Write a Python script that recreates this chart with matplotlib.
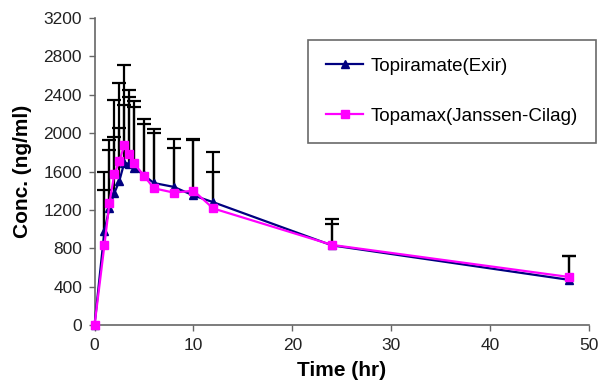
import matplotlib
matplotlib.use("Agg")
import matplotlib.pyplot as plt
import numpy as np

time_hr = [0, 1, 1.5, 2, 2.5, 3, 3.5, 4, 5, 6, 8, 10, 12, 24, 48]
exir_mean = [0, 980, 1220, 1375, 1500, 1690, 1680, 1640, 1560, 1480, 1440, 1350, 1280, 830, 470]
exir_sd = [0, 620, 705, 975, 1025, 1025, 770, 690, 585, 565, 495, 590, 520, 275, 250]
topamax_mean = [0, 835, 1270, 1575, 1705, 1875, 1780, 1685, 1555, 1425, 1380, 1400, 1215, 835, 500]
topamax_sd = [0, 570, 555, 385, 350, 415, 600, 590, 540, 575, 460, 530, 375, 215, 220]

x_ticks = [0, 10, 20, 30, 40, 50]
y_ticks = [0, 400, 800, 1200, 1600, 2000, 2400, 2800, 3200]

plt.rcParams['font.family'] = ['Liberation Sans', 'DejaVu Sans']

fig = plt.figure(figsize=(6.10, 3.84), dpi=100)
ax = fig.add_axes([0.155, 0.1536, 0.811, 0.7995])

t = np.array(time_hr)
for mean, sd in ((exir_mean, exir_sd), (topamax_mean, topamax_sd)):
    m = np.array(mean)
    s = np.array(sd)
    mask = s > 0
    _, caplines, _ = ax.errorbar(t[mask], m[mask], yerr=[np.zeros(mask.sum()), s[mask]],
                                 fmt='none', ecolor='black', elinewidth=1.6, capsize=5,
                                 capthick=1.6, zorder=2)
    # upper-only error bars: hide the lower caps
    caplines[0].set_visible(False)

ax.plot(time_hr, exir_mean, color='#000080', lw=1.6, marker='^', markersize=6,
        markerfacecolor='#000080', markeredgecolor='#000080',
        label='Topiramate(Exir)', zorder=3, clip_on=False)
ax.plot(time_hr, topamax_mean, color='#ff00ff', lw=1.6, marker='s', markersize=6,
        markerfacecolor='#ff00ff', markeredgecolor='#ff00ff',
        label='Topamax(Janssen-Cilag)', zorder=4, clip_on=False)

ax.set_xlim(0, 50)
ax.set_ylim(0, 3200)
ax.set_xticks(x_ticks)
ax.set_yticks(y_ticks)
ax.tick_params(axis='both', labelsize=12.5, colors='#222222', direction='out',
               length=4, width=1, pad=5)
ax.tick_params(axis='both', color='#666666')
for side in ('top', 'right'):
    ax.spines[side].set_visible(False)
for side in ('left', 'bottom'):
    ax.spines[side].set_color('#666666')
    ax.spines[side].set_linewidth(1.2)

ax.set_xlabel('Time (hr)', fontsize=15, fontweight='bold', labelpad=6)
ax.set_ylabel('Conc. (ng/ml)', fontsize=15, fontweight='bold', labelpad=8)

leg = ax.legend(loc='upper left', bbox_to_anchor=(0.505, 0.896),
                bbox_transform=fig.transFigure, fontsize=13.5,
                frameon=True, fancybox=False, shadow=False,
                borderpad=0.95, labelspacing=1.75, handlelength=2.0,
                handletextpad=0.4, borderaxespad=0)
leg.get_frame().set_edgecolor('#444444')
leg.get_frame().set_linewidth(1.2)

fig.savefig('out.png', dpi=100)
